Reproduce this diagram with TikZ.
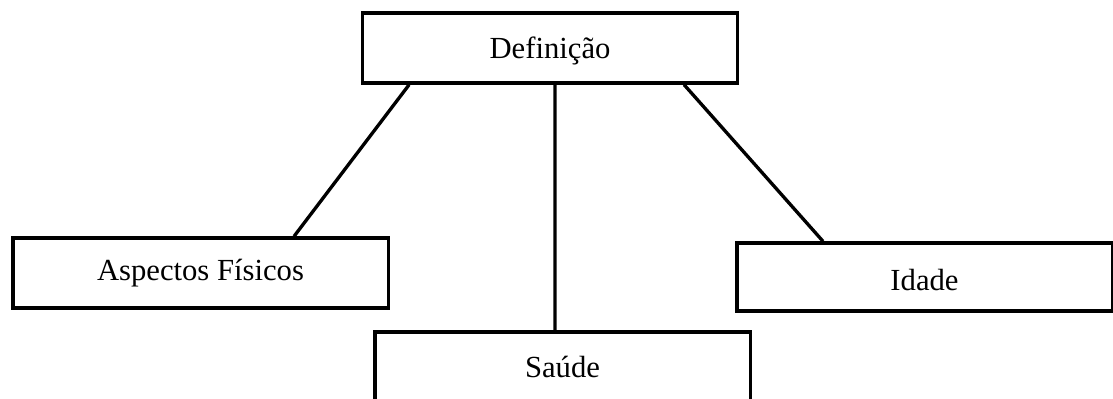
\documentclass[tikz,border=0pt]{standalone}
\usepackage{fontspec}
\setmainfont{Liberation Serif}
\usetikzlibrary{calc}
\begin{document}
\begin{tikzpicture}[x=0.75pt,y=-0.75pt,
  box/.style={draw=black, line width=2.5pt, inner sep=0pt, minimum width=281.5pt,
    minimum height=52.5pt, font=\fontsize{23}{27}\selectfont},
  link/.style={draw=black, line width=2.5pt}]
\useasboundingbox (0,0) rectangle (1113,399);
\node[box] (def) at (550,48) {\raisebox{-2pt}[\height][\depth]{Definição}};
\node[box] (asp) at (200.5,273) {Aspectos Físicos\hspace{25.5pt}};
\node[box, minimum height=51pt] (ida) at (924.5,277) {\raisebox{-2.5pt}[\height][\depth]{Idade}\hspace{24.75pt}};
\node[box] (sau) at (562.5,367) {Saúde\hspace{6pt}};
\draw[link] ($(def.south west)!0.128!(def.south east)$) -- ($(asp.north west)!0.747!(asp.north east)$);
\draw[link] ($(def.south west)!0.513!(def.south east)$) -- ($(sau.north west)!0.48!(sau.north east)$);
\draw[link] ($(def.south west)!0.854!(def.south east)$) -- ($(ida.north west)!0.232!(ida.north east)$);
\end{tikzpicture}
\end{document}
